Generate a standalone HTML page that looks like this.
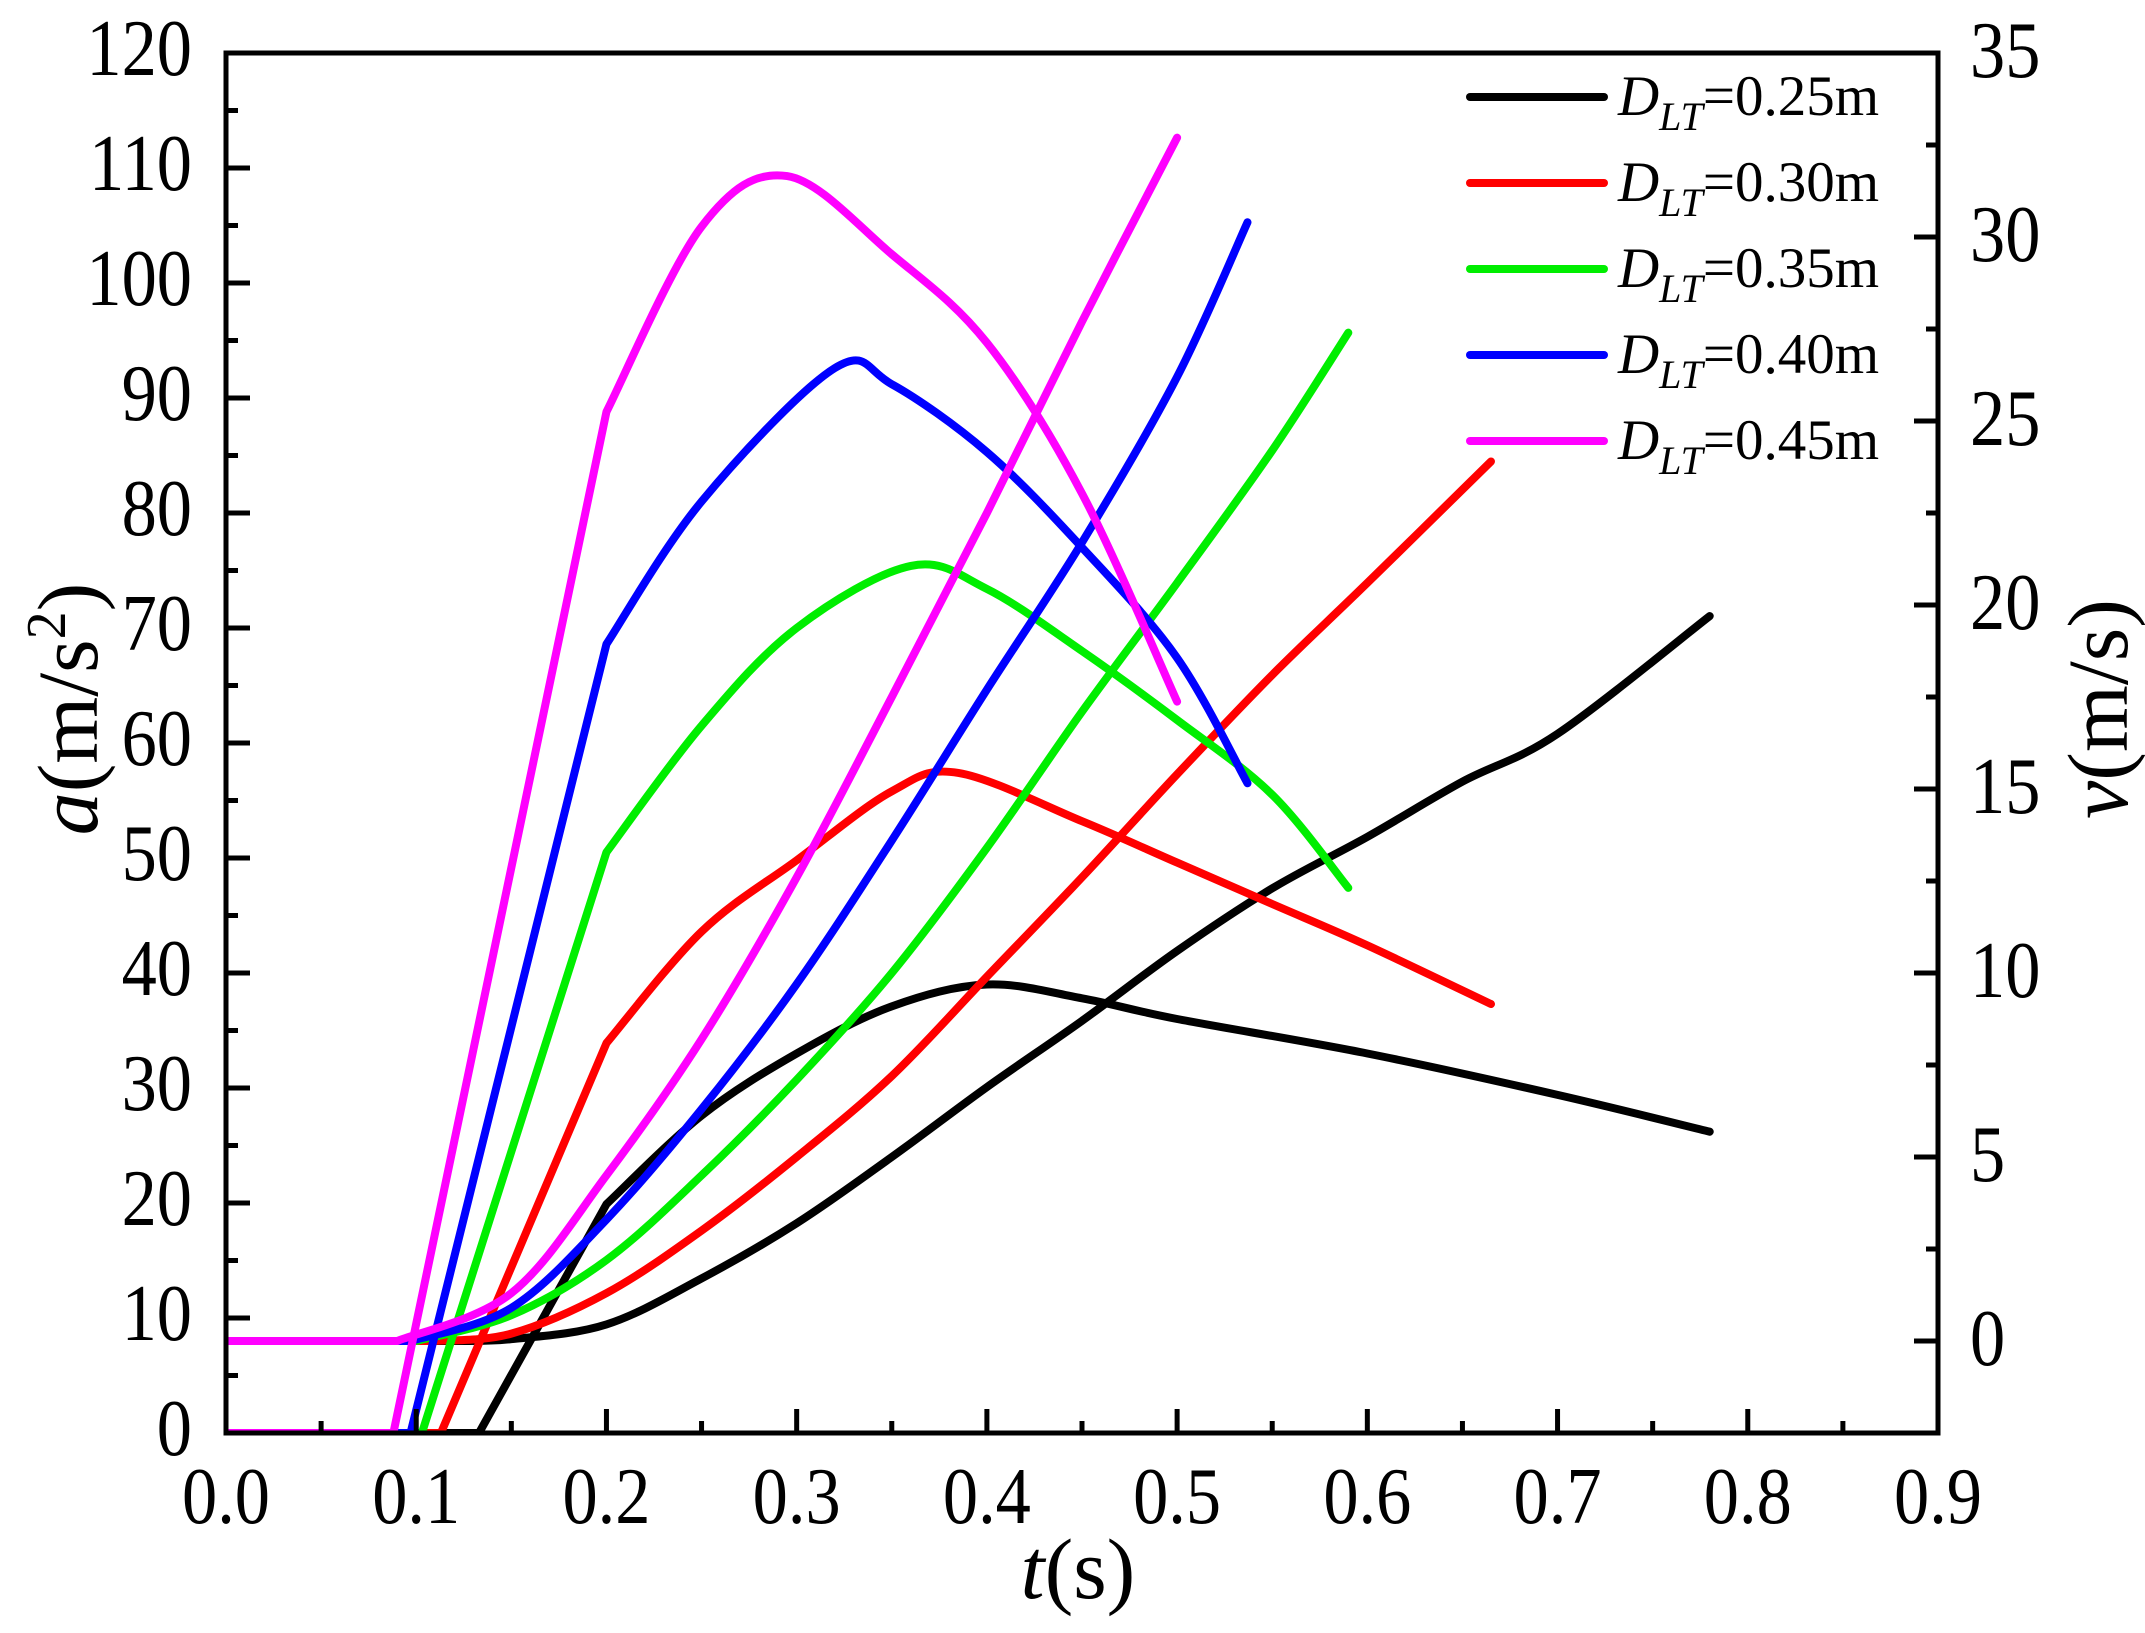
<!DOCTYPE html>
<html><head><meta charset="utf-8"><style>
html,body{margin:0;padding:0;background:#fff}
svg{display:block}
text{font-family:"Liberation Serif",serif;fill:#000}
</style></head><body>
<svg id="chart" width="2145" height="1633" viewBox="0 0 2145 1633" xmlns="http://www.w3.org/2000/svg">
<g id="series"></g>
<g id="axes"></g>
<g id="legend"></g>
<text transform="translate(97,709) rotate(-90)" font-size="86" text-anchor="middle"><tspan font-style="italic">a</tspan>(m/s<tspan font-size="56" dy="-32">2</tspan><tspan dy="32">)</tspan></text>
<text transform="translate(2127,709) rotate(-90)" font-size="86" text-anchor="middle"><tspan font-style="italic">v</tspan>(m/s)</text>
<text x="1078" y="1598" font-size="86" text-anchor="middle"><tspan font-style="italic">t</tspan>(s)</text>
</svg>
<script>
const NS='http://www.w3.org/2000/svg';
const seriesLabels=['0.25m','0.30m','0.35m','0.40m','0.45m'];
const seriesColors=['#000000','#ff0000','#00ee00','#0000ff','#ff00ff'];
// acceleration series: [t, a]
const accBlack=[[0,0],[0.133,0],[0.2,19.9],[0.25,27.6],[0.3,33],[0.35,37.1],[0.4,39],[0.45,37.8],[0.5,36],[0.6,33],[0.7,29.4],[0.78,26.2]];
const accRed=[[0,0],[0.113,0],[0.2,33.9],[0.25,43.6],[0.3,49.8],[0.35,55.8],[0.385,57.4],[0.45,53.2],[0.5,49.6],[0.55,46],[0.6,42.4],[0.665,37.3]];
const accGreen=[[0,0],[0.103,0],[0.2,50.5],[0.25,61.5],[0.3,70],[0.36,75.4],[0.4,73.4],[0.45,68],[0.5,62],[0.55,55.5],[0.59,47.4]];
const accBlue=[[0,0],[0.097,0],[0.2,68.6],[0.25,81],[0.32,92.6],[0.35,91.2],[0.4,85.3],[0.45,77],[0.5,67.4],[0.537,56.5]];
const accMagenta=[[0,0],[0.088,0],[0.2,88.8],[0.25,104.9],[0.295,109.3],[0.35,102.5],[0.4,94.8],[0.45,81.7],[0.5,63.6]];
// velocity series: [t, v]
const velBlack=[[0,0],[0.12,0],[0.15,0.05],[0.2,0.45],[0.25,1.7],[0.3,3.2],[0.35,5.0],[0.4,6.9],[0.45,8.7],[0.5,10.6],[0.55,12.3],[0.6,13.7],[0.65,15.2],[0.7,16.5],[0.78,19.7]];
const velRed=[[0,0],[0.11,0],[0.15,0.2],[0.2,1.3],[0.25,3.0],[0.3,5.0],[0.35,7.2],[0.4,9.9],[0.45,12.6],[0.5,15.4],[0.55,18.1],[0.6,20.6],[0.665,23.9]];
const velGreen=[[0,0],[0.1,0],[0.15,0.7],[0.2,2.2],[0.25,4.5],[0.3,7.1],[0.35,10],[0.4,13.4],[0.45,17.1],[0.5,20.6],[0.55,24.2],[0.59,27.4]];
const velBlue=[[0,0],[0.097,0],[0.15,0.9],[0.2,3.3],[0.25,6.3],[0.3,9.7],[0.35,13.6],[0.4,17.7],[0.45,21.7],[0.5,26.2],[0.537,30.4]];
const velMagenta=[[0,0],[0.09,0],[0.15,1.3],[0.2,4.5],[0.25,8.2],[0.3,12.6],[0.35,17.5],[0.4,22.5],[0.45,27.7],[0.5,32.7]];
const xTicks=['0.0','0.1','0.2','0.3','0.4','0.5','0.6','0.7','0.8','0.9'];
const yLeftTicks=['0','10','20','30','40','50','60','70','80','90','100','110','120'];
const yRightTicks=['0','5','10','15','20','25','30','35'];

const L=226,R=1938,T=53,B=1433;
const X=t=>L+(t-0)/(0.9-0)*(R-L);
const YA=a=>B-(a-0)/(120-0)*(B-T);
const YV=v=>B-(v+2.5)/(35+2.5)*(B-T);
function mk(tag,attrs,parent){const e=document.createElementNS(NS,tag);for(const k in attrs)e.setAttribute(k,attrs[k]);parent.appendChild(e);return e;}
function smooth(pts,lin){
  let d='M'+pts[0][0]+','+pts[0][1];
  for(let i=0;i<pts.length-1;i++){
    const p1=pts[i],p2=pts[i+1];
    if(i<lin){d+=' L'+p2[0]+','+p2[1];continue;}
    const p0=i-1>=lin?pts[i-1]:p1, p3=pts[i+2]||p2;
    const c1=[p1[0]+(p2[0]-p0[0])/6,p1[1]+(p2[1]-p0[1])/6];
    const c2=[p2[0]-(p3[0]-p1[0])/6,p2[1]-(p3[1]-p1[1])/6];
    d+=' C'+c1[0]+','+c1[1]+' '+c2[0]+','+c2[1]+' '+p2[0]+','+p2[1];
  }
  return d;
}

const sg=document.getElementById('series');
const accAll=[accBlack,accRed,accGreen,accBlue,accMagenta];
const velAll=[velBlack,velRed,velGreen,velBlue,velMagenta];
const cp=mk('clipPath',{id:'clip'},sg);mk('rect',{x:L,y:T,width:R-L,height:B-T},cp);
for(let i=0;i<5;i++){
  const pa=mk('path',{d:smooth(accAll[i].map(p=>[X(p[0]),YA(p[1])]),2),fill:'none',stroke:seriesColors[i],'stroke-width':8,'stroke-linejoin':'round','stroke-linecap':'round','clip-path':'url(#clip)'},sg);
  
  
  const pv=mk('path',{d:smooth(velAll[i].map(p=>[X(p[0]),YV(p[1])]),1),fill:'none',stroke:seriesColors[i],'stroke-width':8,'stroke-linejoin':'round','stroke-linecap':'round','clip-path':'url(#clip)'},sg);
  
  
}

const ag=document.getElementById('axes');
const frame=mk('rect',{x:L,y:T,width:R-L,height:B-T,fill:'none',stroke:'#000','stroke-width':5},ag);


function txt(s,x,y,anchor,name){const t=mk('text',{transform:`translate(${x},${y}) scale(0.88,1)`,'font-size':80,'text-anchor':anchor},ag);t.textContent=s;
  
  }
xTicks.forEach((s,i)=>{const v=parseFloat(s);const x=X(v);
  mk('line',{x1:x,y1:B,x2:x,y2:B-24,stroke:'#000','stroke-width':5},ag);
  if(i<xTicks.length-1){const xm=X(v+0.05);mk('line',{x1:xm,y1:B,x2:xm,y2:B-12,stroke:'#000','stroke-width':5},ag);}
  txt(s,x,1523,'middle','x-tick-label');});
yLeftTicks.forEach((s,i)=>{const v=parseFloat(s);const y=YA(v);
  mk('line',{x1:L,y1:y,x2:L+24,y2:y,stroke:'#000','stroke-width':5},ag);
  if(i<yLeftTicks.length-1){const ym=YA(v+5);mk('line',{x1:L,y1:ym,x2:L+12,y2:ym,stroke:'#000','stroke-width':5},ag);}
  txt(s,192,y+22,'end','y-left-tick-label');});
yRightTicks.forEach((s,i)=>{const v=parseFloat(s);const y=YV(v);
  mk('line',{x1:R,y1:y,x2:R-24,y2:y,stroke:'#000','stroke-width':5},ag);
  const ym=YV(v-2.5);mk('line',{x1:R,y1:ym,x2:R-12,y2:ym,stroke:'#000','stroke-width':5},ag);
  txt(s,1970,y+24,'start','y-right-tick-label');});

const lg=document.getElementById('legend');
seriesLabels.forEach((s,i)=>{const y=97+i*86;
  const ln=mk('line',{x1:1470,y1:y,x2:1604,y2:y,stroke:seriesColors[i],'stroke-width':8,'stroke-linecap':'round'},lg);
  
  
  const t=mk('text',{x:1618,y:y+18,'font-size':57},lg);
  
  
  t.innerHTML='<tspan font-style="italic">D</tspan><tspan font-style="italic" font-size="40" dy="15">LT</tspan><tspan dy="-15">='+s+'</tspan>';
});
</script>
</body></html>
